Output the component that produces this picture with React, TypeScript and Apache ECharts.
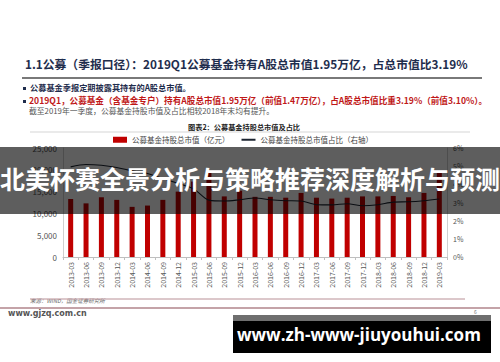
import React, { useEffect, useRef } from "react";
import * as echarts from "echarts";

const categories = [
  "2013-03", "2013-06", "2013-09", "2013-12",
  "2014-03", "2014-06", "2014-09", "2014-12",
  "2015-03", "2015-06", "2015-09", "2015-12",
  "2016-03", "2016-06", "2016-09", "2016-12",
  "2017-03", "2017-06", "2017-09", "2017-12",
  "2018-03", "2018-06", "2018-09", "2018-12",
  "2019-03",
];

const marketValue = [
  13300, 12300, 13700, 13100,
  11500, 11800, 13100, 15000,
  17300, 19800, 13900, 15200,
  13800, 13800, 13600, 14700,
  13600, 13400, 13600, 13900,
  13900, 14000, 13700, 14700,
  19500,
];

const shareRatio = [
  4.96, 5.09, 5.05, 4.93,
  4.74, 4.6, 4.32, 4.05,
  3.75, 3.13, 3.08, 3.15,
  3.25, 3.15, 3.1, 3.08,
  2.88, 2.87, 2.93, 2.82,
  2.88, 3.02, 3.04, 3.1,
  3.19,
];

const leftTicks = { min: 0, max: 25000, interval: 5000 };
const rightTicks = { min: 0, max: 6, interval: 1 };

const seriesNames = ["公募基金持股总市值（亿元）", "公募基金持股总市值占比（右轴）"];

const headline = "1.1公募（季报口径）：2019Q1公募基金持有A股总市值1.95万亿，占总市值比3.19%";
const bullet1 = "公募基金季报定期披露其持有的A股总市值。";
const bullet2 = "2019Q1，公募基金（含基金专户）持有A股总市值1.95万亿（前值1.47万亿），占A股总市值比重3.19%（前值3.10%）。";
const bullet3 = "截至2019年一季度，公募基金持股市值及占比相较2018年末均有提升。";
const chartTitle = "图表2：公募基金持股总市值及占比";
const sourceText = "来源：WIND，国金证券研究所";
const siteText = "www.gjzq.com.cn";
const bannerText = "北美杯赛全景分析与策略推荐深度解析与预测";
const watermark = "www.zh-www-jiuyouhui.com";
const pageNo = "6";

const CJK = '"Noto Sans CJK SC", "Noto Sans", sans-serif';

export default function App() {
  const ref = useRef<HTMLDivElement>(null);
  useEffect(() => {
    if (!ref.current) return;
    const chart = echarts.init(ref.current, undefined, { renderer: "svg" });
    chart.setOption({
      animation: false,
      backgroundColor: "#ffffff",
      textStyle: { fontFamily: CJK },
      legend: {
        top: 136,
        left: 113,
        padding: 0,
        itemGap: 11,
        itemWidth: 14,
        itemHeight: 6,
        textStyle: { fontSize: 7.5, color: "#444", fontFamily: CJK },
        data: [
          { name: seriesNames[0], icon: "rect" },
          { name: seriesNames[1], itemStyle: { opacity: 0 } },
        ],
      },
      grid: { left: 63, right: 53, top: 148, bottom: 105, containLabel: false },
      xAxis: {
        type: "category",
        data: categories,
        axisLine: { lineStyle: { color: "#bfbfbf" } },
        axisTick: { show: true, length: 3, lineStyle: { color: "#bfbfbf" } },
        axisLabel: { rotate: 90, fontSize: 7, color: "#555", margin: 5, interval: 0 },
      },
      yAxis: [
        {
          type: "value",
          min: leftTicks.min,
          max: leftTicks.max,
          interval: leftTicks.interval,
          axisLine: { show: true, lineStyle: { color: "#d0d0d0" } },
          axisTick: { show: false },
          splitLine: { show: false },
          axisLabel: { fontSize: 8, color: "#555", margin: 6 },
        },
        {
          type: "value",
          min: rightTicks.min,
          max: rightTicks.max,
          interval: rightTicks.interval,
          axisLine: { show: true, lineStyle: { color: "#d0d0d0" } },
          axisTick: { show: false },
          splitLine: { show: false },
          axisLabel: { fontSize: 7, color: "#555", margin: 6, formatter: "{value}%" },
        },
      ],
      series: [
        {
          name: seriesNames[0],
          type: "bar",
          data: marketValue,
          barWidth: 5,
          itemStyle: { color: "#c00000" },
        },
        {
          name: seriesNames[1],
          type: "line",
          yAxisIndex: 1,
          data: shareRatio,
          smooth: 0.3,
          symbol: "none",
          lineStyle: { color: "#1c2431", width: 1.1 },
          itemStyle: { color: "#1c2431" },
        },
      ],
      graphic: [
        {
          type: "text",
          left: 25,
          top: 58,
          style: { text: headline, fontSize: 11.8, fontWeight: "bold", fill: "#1f2d4d", fontFamily: CJK },
        },
        { type: "line", shape: { x1: 22, y1: 78, x2: 482, y2: 78 }, style: { stroke: "#4d4d4d", lineWidth: 1.5 } },
        { type: "rect", shape: { x: 23, y: 87, width: 3, height: 3 }, style: { fill: "#1f2d4d" } },
        {
          type: "text", left: 30, top: 83,
          style: { text: bullet1, fontSize: 8.2, fontWeight: "bold", fill: "#1f2d4d", fontFamily: CJK },
        },
        { type: "rect", shape: { x: 23, y: 100, width: 3, height: 3 }, style: { fill: "#1f2d4d" } },
        {
          type: "text", left: 29, top: 96,
          style: { text: bullet2, fontSize: 8.6, fontWeight: "bold", fill: "#c01818", fontFamily: CJK },
        },
        {
          type: "text", left: 29, top: 107,
          style: { text: bullet3, fontSize: 7.8, fill: "#555", fontFamily: CJK },
        },
        {
          type: "text", left: 188, top: 123,
          style: { text: chartTitle, fontSize: 7.2, fontWeight: "bold", fill: "#222", fontFamily: CJK },
        },
        { type: "line", shape: { x1: 30, y1: 132, x2: 470, y2: 132 }, style: { stroke: "#bbbbbb", lineWidth: 0.6 } },
        {
          type: "text", left: 30, top: 298,
          style: { text: sourceText, fontSize: 5.5, fill: "#666", fontStyle: "italic", fontFamily: CJK },
        },
        { type: "line", shape: { x1: 30, y1: 299, x2: 465, y2: 299 }, style: { stroke: "#b99096", lineWidth: 1 } },
        { type: "line", shape: { x1: 0, y1: 308, x2: 500, y2: 308 }, style: { stroke: "#c4a3a8", lineWidth: 2 } },
        {
          type: "text", left: 8, top: 309,
          style: { text: siteText, fontSize: 8, fontWeight: "bold", fill: "#555", fontFamily: '"DejaVu Sans", sans-serif' },
        },
        {
          type: "text", left: 474, top: 309,
          style: { text: pageNo, fontSize: 5, fill: "#777", fontFamily: CJK },
        },
        {
          type: "rect", z: 100,
          shape: { x: 0, y: 147, width: 500, height: 67 },
          style: { fill: "rgba(0,0,0,0.63)" },
        },
        {
          type: "text", z: 101, left: "center", top: 165,
          style: { text: bannerText, fontSize: 25, fontWeight: "bold", fill: "#ffffff", fontFamily: CJK },
        },
        { type: "rect", z: 100, shape: { x: 233, y: 315, width: 258, height: 6 }, style: { fill: "#6f6f6f" } },
        { type: "rect", z: 100, shape: { x: 233, y: 321, width: 258, height: 32 }, style: { fill: "#000000" } },
        {
          type: "text", z: 101, left: 237, top: 326,
          style: { text: watermark, fontSize: 17, fontWeight: "bold", fill: "#ffffff", fontFamily: '"Open Sans", "DejaVu Sans", sans-serif' },
        },
      ],
    });
    return () => chart.dispose();
  }, []);
  return (
    <div
      ref={ref}
      style={{ position: "absolute", left: 0, top: 0, width: 500, height: 362 }}
    />
  );
}
